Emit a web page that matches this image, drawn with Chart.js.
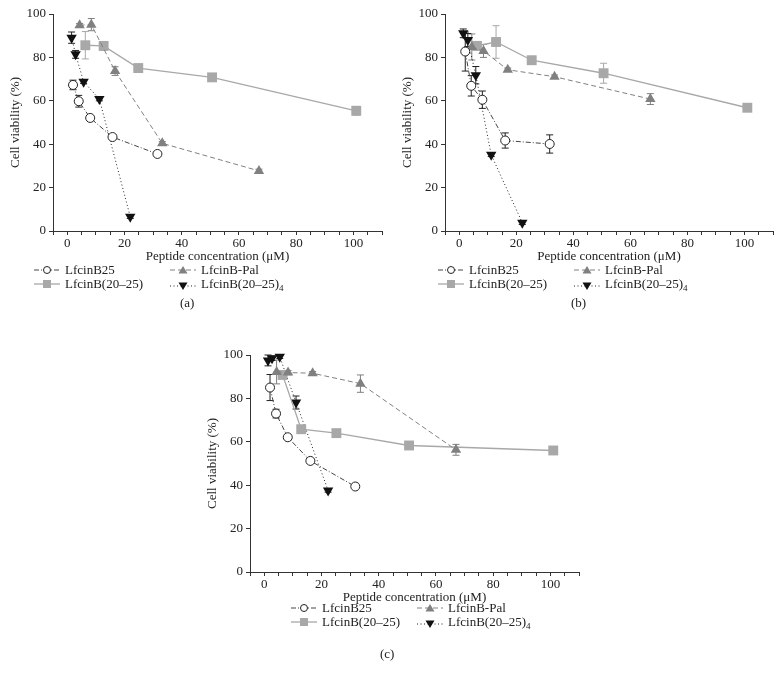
<!DOCTYPE html>
<html>
<head>
<meta charset="utf-8">
<script src="https://cdn.jsdelivr.net/npm/chart.js"></script>
<style>
    body { margin: 0; background: #fff; width: 782px; height: 688px; position: relative; overflow: hidden;
           font-family: "Liberation Serif", "DejaVu Serif", serif; color: #222; }
    canvas { position: absolute; }
    .item { position: absolute; white-space: nowrap; font-size: 13px; line-height: 14px; display: flex; align-items: center; }
    .item svg { margin-right: 5px; }
    .item sub { font-size: 9px; vertical-align: -3px; }
    .tag { position: absolute; font-size: 13px; }
</style>
</head>
<body>
<canvas id="chartA" width="392" height="264" style="left:0;top:0"></canvas>
<canvas id="chartB" width="390" height="264" style="left:392px;top:0"></canvas>
<canvas id="chartC" width="392" height="264" style="left:197px;top:341px"></canvas>

<script>
// series names (legend order)
const seriesNames = ['LfcinB25', 'LfcinB-Pal', 'LfcinB(20–25)', 'LfcinB(20–25)<sub>4</sub>'];
const panelTags = ['(a)', '(b)', '(c)'];
const xTickLabels = [0, 20, 40, 60, 80, 100];
const yTickStep = 20;

// panel (a)
const aB25X = [2.0, 4.0, 8.0, 15.8, 31.5];
const aB25Y = [67.3, 59.8, 52.1, 43.3, 35.5];
const aB25Err = [2.2, 2.7, 0.8, 0.8, 0.8];
const aPalX = [4.3, 8.4, 16.7, 33.2, 67.0];
const aPalY = [94.8, 95.1, 73.7, 40.4, 27.7];
const aPalErr = [0.8, 2.8, 2.0, 0.8, 0.8];
const aHexX = [6.3, 12.7, 24.8, 50.6, 101.0];
const aHexY = [85.6, 85.3, 75.1, 70.8, 55.4];
const aHexErr = [6.3, 2.0, 0.8, 0.8, 2.0];
const aTetX = [1.5, 2.9, 5.7, 11.2, 22.0];
const aTetY = [89.1, 81.4, 68.8, 60.8, 6.6];
const aTetErr = [2.6, 1.8, 0.8, 0.8, 0.8];

// panel (b)
const bB25X = [2.1, 4.2, 8.1, 16.1, 31.7];
const bB25Y = [82.7, 66.9, 60.5, 41.7, 40.1];
const bB25Err = [9.0, 4.7, 4.0, 3.5, 4.2];
const bPalX = [4.4, 8.5, 17.0, 33.4, 67.0];
const bPalY = [84.8, 83.0, 74.3, 71.1, 60.8];
const bPalErr = [6.0, 3.0, 0.8, 0.8, 2.5];
const bHexX = [6.2, 12.9, 25.4, 50.6, 101.0];
const bHexY = [85.3, 87.1, 78.7, 72.7, 56.8];
const bHexErr = [2.0, 7.5, 0.8, 4.6, 0.8];
const bTetX = [1.4, 3.0, 5.8, 11.2, 22.1];
const bTetY = [91.1, 88.0, 71.8, 35.1, 3.8];
const bTetErr = [2.0, 3.0, 4.0, 0.8, 0.8];

// panel (c)
const cB25X = [2.0, 4.1, 8.2, 16.1, 31.8];
const cB25Y = [85.0, 73.0, 62.1, 51.2, 39.4];
const cB25Err = [6.0, 2.0, 0.8, 0.8, 0.8];
const cPalX = [4.3, 8.3, 16.9, 33.6, 67.0];
const cPalY = [92.2, 91.9, 91.6, 86.8, 56.3];
const cPalErr = [5.5, 1.0, 0.8, 4.0, 2.5];
const cHexX = [6.4, 12.9, 25.2, 50.6, 101.0];
const cHexY = [90.8, 65.8, 64.0, 58.3, 56.0];
const cHexErr = [1.5, 0.8, 0.8, 1.2, 0.8];
const cTetX = [1.3, 2.7, 5.4, 11.1, 22.3];
const cTetY = [97.5, 98.5, 99.2, 78.1, 37.6];
const cTetErr = [2.5, 1.0, 0.8, 3.0, 0.8];

const FONT = '"Liberation Serif", "DejaVu Serif", serif';

const seriesStyles = [
    { borderColor: '#444', borderWidth: 1, borderDash: [5, 2, 1, 2], pointStyle: 'circle', pointRadius: 4.5,
      pointBackgroundColor: '#fff', pointBorderColor: '#222', pointBorderWidth: 1, errColor: '#222' },
    { borderColor: '#808080', borderWidth: 1, borderDash: [5, 3], pointStyle: 'triangle', pointRadius: 6,
      pointBackgroundColor: '#808080', pointBorderColor: '#808080', pointBorderWidth: 0, errColor: '#808080' },
    { borderColor: '#a8a8a8', borderWidth: 1.3, borderDash: [], pointStyle: 'rect', pointRadius: 7,
      pointBackgroundColor: '#a8a8a8', pointBorderColor: '#a8a8a8', pointBorderWidth: 0, errColor: '#a8a8a8' },
    { borderColor: '#222', borderWidth: 1, borderDash: [1, 2.5], pointStyle: 'triangle', pointRotation: 180, pointRadius: 6,
      pointBackgroundColor: '#111', pointBorderColor: '#111', pointBorderWidth: 0, errColor: '#222' }
];

function toPoints(xs, ys) {
    return xs.map((x, i) => ({ x: x, y: ys[i] }));
}

// vertical error bars with caps, drawn under the markers
const errorBars = {
    id: 'errorBars',
    beforeDatasetsDraw(chart) {
        const ctx = chart.ctx;
        const yScale = chart.scales.y;
        chart.data.datasets.forEach((ds, i) => {
            const meta = chart.getDatasetMeta(i);
            ctx.save();
            ctx.strokeStyle = ds.errColor;
            ctx.lineWidth = 1;
            meta.data.forEach((pt, j) => {
                const e = ds.errors[j];
                if (!e) return;
                const top = yScale.getPixelForValue(ds.data[j].y + e);
                const bot = yScale.getPixelForValue(ds.data[j].y - e);
                ctx.beginPath();
                ctx.moveTo(pt.x, top); ctx.lineTo(pt.x, bot);
                ctx.moveTo(pt.x - 3.5, top); ctx.lineTo(pt.x + 3.5, top);
                ctx.moveTo(pt.x - 3.5, bot); ctx.lineTo(pt.x + 3.5, bot);
                ctx.stroke();
            });
            ctx.restore();
        });
    }
};

function makePanel(canvasId, series, padRight) {
    const datasets = series.map((s, i) => Object.assign({
        label: seriesNames[i].replace('<sub>4</sub>', '4'),
        data: toPoints(s[0], s[1]),
        errors: s[2],
        showLine: true,
        tension: 0,
        fill: false,
        clip: false,
        order: i
    }, seriesStyles[i]));

    new Chart(document.getElementById(canvasId), {
        type: 'scatter',
        data: { datasets: datasets },
        plugins: [errorBars],
        options: {
            responsive: false,
            animation: false,
            layout: { padding: { top: 14, right: padRight, left: 0, bottom: 0 } },
            plugins: { legend: { display: false }, tooltip: { enabled: false } },
            scales: {
                x: {
                    type: 'linear',
                    min: -5,
                    max: 110,
                    afterFit: (scale) => { scale.height = 33; },
                    border: { color: '#333', width: 1 },
                    grid: { drawOnChartArea: false, drawTicks: true, tickLength: 4, color: '#333' },
                    ticks: {
                        stepSize: 5,
                        autoSkip: false,
                        maxRotation: 0,
                        padding: 1,
                        color: '#222',
                        font: { family: FONT, size: 13 },
                        callback: (v) => xTickLabels.includes(v) ? v : ''
                    },
                    title: {
                        display: true,
                        text: 'Peptide concentration (μM)',
                        color: '#222',
                        padding: { top: 0, bottom: 0 },
                        font: { family: FONT, size: 13 }
                    }
                },
                y: {
                    min: 0,
                    max: 100,
                    afterFit: (scale) => { scale.width = 53; },
                    border: { color: '#333', width: 1 },
                    grid: { drawOnChartArea: false, drawTicks: true, tickLength: 4, color: '#333' },
                    ticks: {
                        stepSize: yTickStep,
                        padding: 3,
                        color: '#222',
                        font: { family: FONT, size: 13 }
                    },
                    title: {
                        display: true,
                        text: 'Cell viability (%)',
                        color: '#222',
                        padding: { top: 8, bottom: 0 },
                        font: { family: FONT, size: 13 }
                    }
                }
            }
        }
    });
}

makePanel('chartA', [[aB25X, aB25Y, aB25Err], [aPalX, aPalY, aPalErr], [aHexX, aHexY, aHexErr], [aTetX, aTetY, aTetErr]], 10);
makePanel('chartB', [[bB25X, bB25Y, bB25Err], [bPalX, bPalY, bPalErr], [bHexX, bHexY, bHexErr], [bTetX, bTetY, bTetErr]], 9);
makePanel('chartC', [[cB25X, cB25Y, cB25Err], [cPalX, cPalY, cPalErr], [cHexX, cHexY, cHexErr], [cTetX, cTetY, cTetErr]], 10);

// legend samples as small svg strips
function sampleSvg(i) {
    const st = seriesStyles[i];
    const dash = st.borderDash.length ? ' stroke-dasharray="' + st.borderDash.join(',') + '"' : '';
    let marker = '';
    if (i === 0) marker = '<circle cx="13" cy="5" r="3.5" fill="#fff" stroke="#222" stroke-width="1"/>';
    if (i === 1) marker = '<polygon points="13,1 17.5,8.5 8.5,8.5" fill="#808080"/>';
    if (i === 2) marker = '<rect x="9" y="1" width="8" height="8" fill="#a8a8a8"/>';
    if (i === 3) marker = '<polygon points="8.5,1.5 17.5,1.5 13,9" fill="#111"/>';
    return '<svg width="26" height="10"><line x1="0" y1="5" x2="26" y2="5" stroke="' + st.borderColor +
        '" stroke-width="' + st.borderWidth + '"' + dash + '/>' + marker + '</svg>';
}

// legend block origins and column offsets per panel
const legendSpots = [
    { left: 34, top: 263, col2: 136, tagX: 180, tagY: 295 },
    { left: 438, top: 263, col2: 136, tagX: 571, tagY: 295 },
    { left: 291, top: 601, col2: 126, tagX: 380, tagY: 646 }
];

legendSpots.forEach((spot, p) => {
    seriesNames.forEach((name, i) => {
        const div = document.createElement('div');
        div.className = 'item';
        const col = i % 2, row = Math.floor(i / 2);
        div.style.left = (spot.left + col * spot.col2) + 'px';
        div.style.top = (spot.top + row * 14) + 'px';
        div.innerHTML = sampleSvg(i) + '<span>' + name + '</span>';
        document.body.appendChild(div);
    });
    const tag = document.createElement('div');
    tag.className = 'tag';
    tag.style.left = spot.tagX + 'px';
    tag.style.top = spot.tagY + 'px';
    tag.textContent = panelTags[p];
    document.body.appendChild(tag);
});
</script>
</body>
</html>
